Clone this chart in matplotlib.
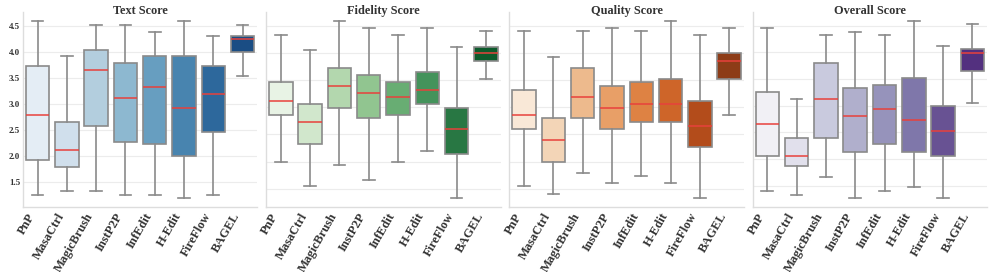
import matplotlib
matplotlib.use("Agg")
import matplotlib.pyplot as plt
import seaborn as sns
import numpy as np

methods = ["PnP", "MasaCtrl", "MagicBrush", "InstP2P", "InfEdit", "H-Edit", "FireFlow", "BAGEL"]
titles = ["Text Score", "Fidelity Score", "Quality Score", "Overall Score"]
palettes = ["Blues", "Greens", "Oranges", "Purples"]

# per panel: whisker low, Q1, median, Q3, whisker high
text_low = [1.26, 1.33, 1.33, 1.26, 1.26, 1.20, 1.26, 3.54]
text_q1 = [1.93, 1.79, 2.59, 2.27, 2.23, 2.00, 2.46, 4.00]
text_med = [2.79, 2.13, 3.66, 3.13, 3.33, 2.92, 3.19, 4.26]
text_q3 = [3.73, 2.66, 4.05, 3.79, 3.93, 3.93, 3.73, 4.32]
text_high = [4.60, 3.93, 4.53, 4.53, 4.39, 4.60, 4.32, 4.53]

fid_low = [2.00, 1.54, 1.93, 1.66, 2.00, 2.20, 1.33, 3.52]
fid_q1 = [2.86, 2.33, 2.99, 2.80, 2.86, 3.06, 2.13, 3.86]
fid_med = [3.12, 2.73, 3.39, 3.26, 3.19, 3.32, 2.60, 4.00]
fid_q3 = [3.46, 3.06, 3.72, 3.59, 3.46, 3.65, 2.99, 4.12]
fid_high = [4.33, 4.05, 4.59, 4.46, 4.33, 4.46, 4.12, 4.40]

qual_low = [1.54, 1.40, 1.79, 1.60, 1.73, 1.60, 1.33, 2.86]
qual_q1 = [2.60, 2.00, 2.80, 2.60, 2.73, 2.73, 2.26, 3.52]
qual_med = [2.86, 2.40, 3.19, 2.99, 3.06, 3.06, 2.66, 3.86]
qual_q3 = [3.32, 2.80, 3.72, 3.39, 3.46, 3.52, 3.12, 4.00]
qual_high = [4.40, 3.92, 4.40, 4.46, 4.40, 4.59, 4.33, 4.46]

over_low = [1.40, 1.33, 1.66, 1.27, 1.40, 1.47, 1.27, 3.06]
over_q1 = [2.06, 1.86, 2.39, 2.13, 2.29, 2.13, 2.06, 3.66]
over_med = [2.66, 2.06, 3.13, 2.80, 2.94, 2.73, 2.53, 3.99]
over_q3 = [3.26, 2.39, 3.80, 3.33, 3.39, 3.53, 3.00, 4.06]
over_high = [4.46, 3.13, 4.33, 4.39, 4.33, 4.59, 4.13, 4.53]

panels = [
    (text_low, text_q1, text_med, text_q3, text_high),
    (fid_low, fid_q1, fid_med, fid_q3, fid_high),
    (qual_low, qual_q1, qual_med, qual_q3, qual_high),
    (over_low, over_q1, over_med, over_q3, over_high),
]

serif = ["Liberation Serif", "DejaVu Serif"]

fig, axes = plt.subplots(1, 4, figsize=(9.97, 2.72), dpi=100)
fig.subplots_adjust(left=0.023, right=0.990, bottom=0.24, top=0.955, wspace=0.038)

for i, ax in enumerate(axes):
    low, q1, med, q3, high = panels[i]
    stats = []
    for j, m in enumerate(methods):
        stats.append(dict(label=m, whislo=low[j], q1=q1[j], med=med[j], q3=q3[j],
                          whishi=high[j], fliers=[]))
    cols = [sns.desaturate(c, 0.75) for c in sns.color_palette(palettes[i], len(methods))]
    bp = ax.bxp(stats, positions=np.arange(len(methods)), widths=0.8, patch_artist=True,
                showfliers=False,
                boxprops=dict(edgecolor="#8a8a8a", linewidth=1.2),
                whiskerprops=dict(color="#8a8a8a", linewidth=1.2),
                capprops=dict(color="#8a8a8a", linewidth=1.2),
                medianprops=dict(color="#e8413c", linewidth=1.1),
                capwidths=0.4)
    for patch, c in zip(bp["boxes"], cols):
        patch.set_facecolor(c)
    ax.set_xlim(-0.5, len(methods) - 0.5)
    ax.set_axisbelow(True)
    ax.yaxis.grid(True, color="#ececec", linewidth=0.8)
    ax.xaxis.grid(False)
    for s in ["top", "right"]:
        ax.spines[s].set_visible(False)
    for s in ["left", "bottom"]:
        ax.spines[s].set_color("#dddddd")
        ax.spines[s].set_linewidth(1.0)
    ax.set_title(titles[i], fontsize=8.8, fontweight="bold", family=serif, color="#333333",
                 y=0.99, pad=0)
    ax.set_xticks(np.arange(len(methods)))
    ax.set_xticklabels(methods, rotation=60, ha="right",
                       fontsize=9, fontweight="bold", family=serif, color="#333333")
    ax.tick_params(axis="both", length=0, pad=3)
    ax.yaxis.set_major_locator(matplotlib.ticker.MultipleLocator(0.5))
    if i == 0:
        for lab in ax.get_yticklabels():
            lab.set_fontsize(6.5)
            lab.set_fontweight("bold")
            lab.set_family(serif)
            lab.set_color("#333333")
        ax.tick_params(axis="y", pad=2)
    else:
        ax.set_yticklabels([])

fig.savefig("out.png", dpi=100)
